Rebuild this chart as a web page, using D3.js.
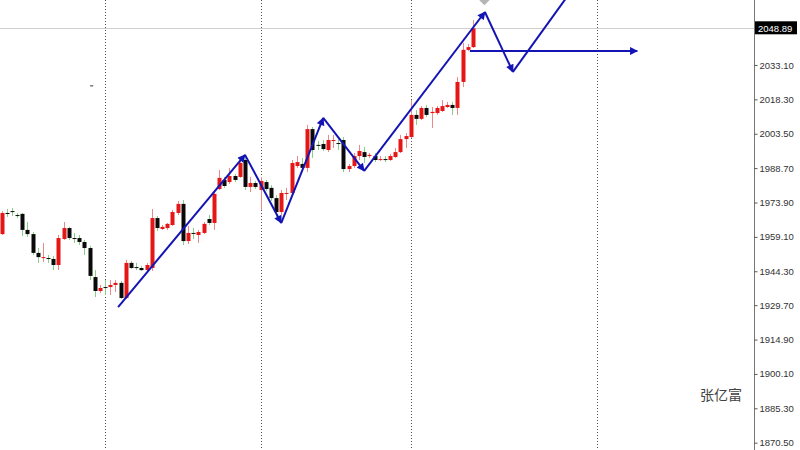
<!DOCTYPE html>
<html>
<head>
<meta charset="utf-8">
<script src="https://cdn.jsdelivr.net/npm/d3@7"></script>
<style>
  html, body { margin: 0; padding: 0; background: #fff; }
  svg { display: block; }
</style>
</head>
<body>
<svg id="chart" width="800" height="450"></svg>
<script>
// ---- Data (H4 candles) ----
const opens = [1960.3,1969.4,1970.2,1968.5,1969.0,1962.1,1960.3,1952.2,1950.0,1950.0,
  1949.6,1947.0,1958.2,1962.9,1958.6,1958.6,1956.9,1954.3,1941.8,1935.8,
  1937.5,1937.5,1938.4,1939.3,1932.8,1947.9,1946.1,1945.7,1944.8,1945.7,
  1967.2,1962.5,1962.9,1964.2,1969.4,1973.3,1957.3,1960.8,1959.9,1960.8,
  1966.8,1965.1,1979.7,1983.6,1982.7,1985.3,1984.9,1992.2,1980.6,1982.3,
  1979.3,1982.7,1980.2,1975.8,1969.8,1977.6,1978.0,1989.6,1990.5,1988.8,
  2005.5,1998.7,1999.1,1996.5,2000.4,1999.5,2000.8,1988.3,1989.6,1993.9,
  1995.6,1993.9,1993.9,1992.2,1992.6,1992.2,1993.5,1995.6,2001.2,2002.1,
  2011.6,2009.9,2014.6,2012.4,2012.4,2013.3,2015.0,2015.9,2014.6,2025.8,
  2039.6,2040.8];
const closes = [1969.4,1969.4,1970.2,1968.5,1962.1,1960.3,1952.2,1950.4,1950.4,1950.0,
  1947.0,1958.6,1962.9,1958.6,1958.6,1956.9,1954.3,1942.3,1935.8,1937.1,
  1937.5,1938.4,1939.3,1932.8,1947.9,1945.7,1946.1,1944.8,1947.0,1967.2,
  1962.9,1963.4,1964.7,1969.8,1973.3,1957.3,1960.8,1960.8,1961.2,1964.7,
  1965.1,1977.6,1984.5,1981.0,1985.3,1983.6,1990.9,1980.6,1982.3,1980.6,
  1983.2,1979.7,1975.8,1969.8,1978.0,1978.0,1990.9,1991.3,1988.8,2005.5,
  1996.5,1998.7,1996.9,2000.8,2000.8,1999.5,1988.3,1989.6,1993.9,1996.1,
  1993.5,1994.4,1992.2,1992.6,1992.6,1993.9,1995.6,2001.2,2002.5,2011.6,
  2009.9,2014.6,2011.6,2012.9,2014.6,2015.4,2015.9,2014.6,2025.8,2039.6,
  2040.8,2048.89];
const highs = [1970.2,1971.1,1971.5,1969.4,1969.4,1965.5,1961.2,1954.3,1956.5,1951.3,
  1950.9,1959.9,1965.5,1963.4,1960.8,1959.9,1957.8,1955.2,1944.8,1938.4,
  1940.5,1940.5,1940.5,1940.1,1949.2,1948.7,1947.9,1946.6,1947.9,1971.1,
  1968.1,1964.2,1965.1,1970.7,1974.6,1975.0,1963.8,1962.9,1962.1,1965.5,
  1968.5,1979.3,1987.9,1984.9,1988.8,1986.2,1992.2,1993.9,1984.9,1983.2,
  1984.9,1983.6,1981.4,1977.1,1979.3,1980.2,1992.2,1993.9,1993.1,2007.3,
  2006.4,2000.4,2000.8,2003.0,2003.0,2001.7,2002.1,1990.5,1995.2,1998.7,
  1997.8,1995.2,1995.2,1993.9,1993.9,1994.8,1997.4,2003.0,2003.8,2018.0,
  2013.7,2015.4,2015.9,2015.0,2015.4,2018.0,2017.2,2017.2,2027.9,2042.6,
  2042.1,2052.5];
const lows = [1959.9,1967.7,1968.1,1967.2,1959.5,1959.1,1951.3,1947.9,1948.3,1947.9,
  1944.8,1944.8,1957.8,1957.8,1956.5,1955.6,1951.3,1940.5,1933.2,1934.9,
  1934.1,1934.1,1935.4,1932.4,1932.4,1945.3,1944.8,1944.4,1944.0,1944.4,
  1961.6,1962.1,1962.1,1963.8,1968.5,1955.6,1956.0,1958.2,1956.5,1960.3,
  1964.2,1962.1,1979.3,1980.2,1981.9,1982.7,1984.5,1979.3,1978.4,1979.7,
  1970.7,1978.9,1974.6,1967.7,1968.5,1975.0,1977.1,1988.8,1987.0,1987.0,
  1993.1,1996.5,1996.1,1995.6,1997.4,1996.5,1987.0,1987.0,1988.8,1992.2,
  1990.9,1993.1,1991.3,1991.8,1991.3,1991.8,1993.1,1995.2,1997.4,2001.7,
  2007.3,2009.4,2010.7,2006.0,2011.6,2012.9,2014.6,2011.6,2011.6,2023.6,
  2039.1,2040.4];

const tickValues = [2033.10,2018.30,2003.50,1988.70,1973.90,1959.10,1944.30,1929.70,1914.90,1900.10,1885.30,1870.50];
const lastPrice = 2048.89;
const separatorIdx = [20, 50, 79, 115];

// hand-drawn zigzag arrows (bar index, price)
const zigIdx = [22.5, 47.0, 54.0, 62.1, 70.0, 93.3, 98.7, 110.1];
const zigPrice = [1928.9, 1994.4, 1965.1, 2010.3, 1987.5, 2055.9, 2030.1, 2065.4];
// horizontal arrow
const hArrowIdx = [90.4, 122.7];
const hArrowPrice = 2039.1;

const watermark = "张亿富";

// ---- Layout ----
const svg = d3.select("#chart");
const W = 800, H = 450, axisX = 754;

const x = d3.scaleLinear().domain([0, 91]).range([1.5, 473]);
const y = d3.scaleLinear().domain([1870.5, 2048.89]).range([442.7, 28.3]);

const defs = svg.append("defs");
defs.append("clipPath").attr("id", "plotclip")
  .append("rect").attr("x", 0).attr("y", 0).attr("width", axisX).attr("height", H);
defs.append("marker")
  .attr("id", "arrow").attr("viewBox", "0 0 10 10")
  .attr("refX", 9).attr("refY", 5)
  .attr("markerUnits", "userSpaceOnUse")
  .attr("markerWidth", 9).attr("markerHeight", 8)
  .attr("orient", "auto")
  .append("path").attr("d", "M0,0 L10,5 L0,10 z").attr("fill", "#1414b4");

const plot = svg.append("g").attr("clip-path", "url(#plotclip)");

// period separators
plot.selectAll("line.sep").data(separatorIdx).join("line")
  .attr("class", "sep")
  .attr("x1", d => Math.round(x(d)) + 0.5).attr("x2", d => Math.round(x(d)) + 0.5)
  .attr("y1", 0).attr("y2", H)
  .attr("stroke", "#555").attr("stroke-width", 1).attr("stroke-dasharray", "1,2");

// last price line
plot.append("line")
  .attr("x1", 0).attr("x2", axisX)
  .attr("y1", Math.round(y(lastPrice)) + 0.5).attr("y2", Math.round(y(lastPrice)) + 0.5)
  .attr("stroke", "#cfcfcf").attr("stroke-width", 1);

// candles
const candles = d3.range(opens.length).map(i => ({
  i, o: opens[i], c: closes[i], h: highs[i], l: lows[i]
}));
const bodyW = 4;
const cg = plot.append("g");
cg.selectAll("line.wick").data(candles).join("line")
  .attr("class", "wick")
  .attr("x1", d => Math.round(x(d.i)) + 0.5).attr("x2", d => Math.round(x(d.i)) + 0.5)
  .attr("y1", d => y(d.h)).attr("y2", d => y(d.l))
  .attr("stroke", d => d.c > d.o ? "#e88a8a" : "#86cf86").attr("stroke-width", 1);
cg.selectAll("rect.body").data(candles).join("rect")
  .attr("class", "body")
  .attr("x", d => Math.round(x(d.i)) - 1.5)
  .attr("width", bodyW)
  .attr("y", d => y(Math.max(d.o, d.c)))
  .attr("height", d => Math.max(1, Math.abs(y(d.o) - y(d.c))))
  .attr("fill", d => d.c > d.o ? "#e51616" : "#0a0a0a");

// zigzag arrows
const zig = zigIdx.map((v, k) => ({ i: v, p: zigPrice[k] }));
const segs = d3.range(zig.length - 1).map(k => [zig[k], zig[k + 1]]);
plot.selectAll("line.zig").data(segs).join("line")
  .attr("class", "zig")
  .attr("x1", d => x(d[0].i)).attr("y1", d => y(d[0].p))
  .attr("x2", d => x(d[1].i)).attr("y2", d => y(d[1].p))
  .attr("stroke", "#1414b4").attr("stroke-width", 2)
  .attr("marker-end", "url(#arrow)");

plot.append("line")
  .attr("x1", x(hArrowIdx[0])).attr("x2", x(hArrowIdx[1]))
  .attr("y1", y(hArrowPrice)).attr("y2", y(hArrowPrice))
  .attr("stroke", "#1414b4").attr("stroke-width", 2)
  .attr("marker-end", "url(#arrow)");

// small gray marker at top, tiny dash
const mx = x(93.2), my = y(2061.0);
plot.append("path")
  .attr("d", `M${mx - 5},${my} L${mx},${my - 5} L${mx + 5},${my} L${mx},${my + 5} Z`)
  .attr("fill", "#b4b4b4");
plot.append("line")
  .attr("x1", x(17.1)).attr("x2", x(17.7)).attr("y1", y(2024.1)).attr("y2", y(2024.1))
  .attr("stroke", "#333").attr("stroke-width", 1);

// price axis
svg.append("line")
  .attr("x1", axisX + 0.5).attr("x2", axisX + 0.5).attr("y1", 0).attr("y2", H)
  .attr("stroke", "#777").attr("stroke-width", 1);
const axis = d3.axisRight(y).tickValues(tickValues).tickFormat(d3.format(".2f"))
  .tickSize(3).tickPadding(2);
const ag = svg.append("g").attr("transform", `translate(${axisX + 0.5},0)`).call(axis);
ag.select(".domain").remove();
ag.selectAll(".tick line").attr("stroke", "#555");
ag.selectAll(".tick text").attr("fill", "#333")
  .style("font-family", "'Liberation Sans', Arial, sans-serif").style("font-size", "9.5px");

// last price label
const ly = y(lastPrice);
svg.append("rect").attr("x", axisX + 1).attr("y", ly - 7).attr("width", 42).attr("height", 13)
  .attr("fill", "#000");
svg.append("text").attr("x", axisX + 4).attr("y", ly + 3.5)
  .attr("fill", "#fff")
  .style("font-family", "'Liberation Sans', Arial, sans-serif").style("font-size", "9.5px")
  .text(d3.format(".2f")(lastPrice));

// watermark
svg.append("text").attr("x", 700).attr("y", 400)
  .attr("fill", "#444")
  .style("font-family", "'Noto Sans CJK SC', sans-serif").style("font-size", "14px")
  .text(watermark);
</script>
</body>
</html>
